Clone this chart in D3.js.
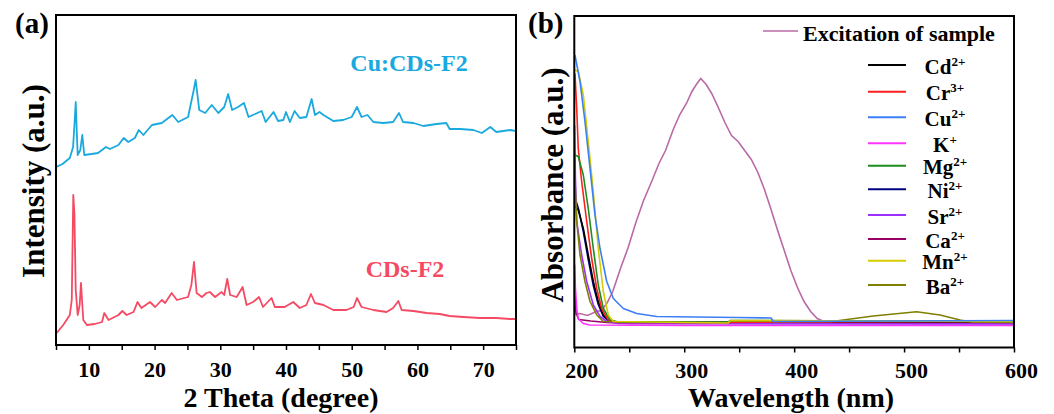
<!DOCTYPE html>
<html><head><meta charset="utf-8">
<script src="https://cdn.jsdelivr.net/npm/d3@7"></script>
<style>
body{margin:0;background:#fff}
svg{display:block}
text{font-family:"Liberation Serif","Times New Roman",serif;font-weight:bold;fill:#000}
</style>
</head><body>
<svg id="c" width="1054" height="414"></svg>
<script>
// ---------- Panel (a): XRD ----------
const xrdTickLabels = [10,20,30,40,50,60,70];
const xrdSeriesNames = ["Cu:CDs-F2","CDs-F2"];
// [2theta (deg), intensity (a.u.)]
const cuCDsF2 = [[5.0,178],[6.0,181],[7.1,187],[7.6,198],[7.85,225],[8.0,243],[8.15,215],[8.3,190],[8.7,195],[9.0,210],[9.3,190],[10.4,191],[11.4,192],[12.6,198],[13.2,196],[14.5,200],[15.3,207],[16.0,203],[17.0,207],[17.6,215],[18.3,210],[19.6,220],[21.1,222],[22.7,230],[23.6,223],[25.1,228],[25.9,253],[26.25,265],[26.8,235],[27.7,232],[28.7,240],[29.7,232],[30.6,238],[31.2,251],[31.8,235],[32.7,238],[33.6,242],[34.3,228],[35.3,231],[36.3,234],[36.9,223],[38.1,233],[38.8,224],[39.6,225],[40.0,233],[40.6,223],[41.3,234],[42.1,227],[43.1,228],[43.9,246],[44.4,230],[45.1,233],[45.7,230],[47.2,224],[48.7,225],[50.0,228],[50.8,238],[51.5,228],[52.4,230],[53.3,223],[54.8,222],[56.3,223],[57.2,232],[57.8,223],[59.4,222],[60.9,219],[62.9,221],[64.4,222],[64.9,216],[66.5,216],[68.5,215],[69.8,212],[71.1,218],[72.0,213],[74.1,215],[75,214]];
const cdsF2 = [[5.1,12],[6.1,20],[7.1,30],[7.4,45],[7.63,150],[7.8,132],[8.0,55],[8.3,30],[8.6,40],[8.8,62],[9.15,25],[9.7,20],[10.9,21],[12.0,23],[12.35,32],[13.0,25],[14.5,30],[15.1,34],[15.75,30],[16.8,33],[17.4,43],[18.0,37],[19.3,43],[20.1,38],[21.1,45],[21.6,42],[22.6,52],[23.4,45],[24.5,47],[25.1,48],[25.6,60],[26.0,83],[26.4,52],[27.2,48],[27.9,52],[28.4,53],[29.2,48],[30.2,53],[30.6,50],[31.06,66],[31.5,50],[32.5,48],[33.4,58],[34.0,40],[35.0,43],[35.9,48],[36.5,38],[37.8,47],[38.3,38],[39.8,38],[41.1,43],[42.1,37],[43.1,40],[43.8,51],[44.4,42],[45.7,40],[47.2,35],[49.2,35],[50.3,38],[50.8,47],[51.5,38],[53.3,35],[55.3,33],[56.3,37],[57.1,44],[57.6,35],[59.4,34],[61.4,32],[63.4,31],[64.9,29],[67.0,28],[69.5,27],[72.0,27],[74.1,26],[75,26]];

// ---------- Panel (b): UV-vis ----------
const wlTickLabels = [200,300,400,500,600];
const excitationName = "Excitation of sample";
// [wavelength (nm), absorbance (a.u.)]
const excitation = [[200.5,33],[205,34],[212,32],[220,36],[225,37],[230,45],[235,56],[242,79],[249,100],[256,125],[263,147],[270,165],[277,184],[283,197],[290,218],[296,233],[302,244],[307,256],[311,263],[315,269],[320,263],[325,254],[331,240],[337,225],[343,212],[349,206],[355,197],[361,188],[367,175],[373,158],[379,138],[385,117],[391,97],[397,77],[403,60],[409,46],[415,36],[421,29],[427,26],[432,25]];
const ionNames = ["Cd","Cr","Cu","K","Mg","Ni","Sr","Ca","Mn","Ba"];
const ionCharges = ["2+","3+","2+","+","2+","2+","2+","2+","2+","2+"];
const cdAbs = [[200.6,141],[203.6,137.5],[208.2,119],[212.7,92.5],[217.3,66],[221.8,46],[226.4,32.5],[232.5,26],[260,25],[400,25],[600,25]];
const crAbs = [[200.6,274],[202.2,239],[203.6,199],[206.7,166],[211.3,126],[215.8,89],[220.4,59],[224.9,39],[230.9,27.5],[240,25],[340,25],[380,25.5],[600,26]];
const cuAbs = [[200.6,292.5],[205.2,266],[209.7,226],[214.3,179],[218.8,132.5],[223.4,99],[229.5,66],[235.5,49],[244.6,39],[256.8,34],[275,31],[348,30],[379,29.5],[381,26],[600,27]];
const kAbs = [[200.3,83],[201,60],[202.2,39],[203.6,29],[208.2,24],[214,22.5],[300,22],[600,22]];
const mgAbs = [[200.6,192.5],[203.6,191],[208.2,172.5],[212.7,139],[217.3,99],[221.8,62.5],[226.4,39],[232.5,27.5],[240,25.5],[340,25.5],[342,27],[600,26]];
const niAbs = [[200.6,150],[204,138],[208.2,116],[212.7,88],[217.3,62],[221.8,43],[226.4,31],[232.5,25.5],[600,25]];
const srAbs = [[200.3,222],[201,170],[202.2,126],[206.7,92.5],[211.3,66],[217.3,42.5],[223.4,31],[229.5,26],[240,24],[600,23.5]];
const caAbs = [[200.3,60],[201.5,35],[204,28],[215,26.5],[230,25],[250,24],[600,24]];
const mnAbs = [[200.6,277.5],[203.6,276],[208.2,252.5],[212.7,206],[217.3,156],[221.8,99],[226.4,56],[230.9,32.5],[235.5,26],[340,24.5],[342,27],[600,26]];
const baAbs = [[200.6,169],[202.2,126],[205.2,92.5],[209.7,66],[214.3,46],[220.4,32.5],[226.4,26],[300,25],[432.6,25.8],[472,31.5],[511.4,35.8],[532.7,32.5],[550.9,27.5],[563,25.2],[600,25]];

// ---------- styles ----------
const xrdColors = ["#19a9de","#f44a63"];
const excitationColor = "#b96aa5";
const ionColors = ["#000000","#ff1f1f","#3b7ff5","#ff33ff","#1e8c1e","#000080","#9b30ff","#990066","#d6cc00","#808000"];

const svg = d3.select("#c");
const FONT = '"Liberation Serif","Times New Roman",serif';

function styleTickText(sel, y, dx){
  sel.selectAll(".tick text").attr("y",y).attr("dy",0).attr("dx",dx)
    .style("font-size","22px").style("font-family",FONT).style("font-weight","bold").style("fill","#000");
}

// ===== Panel (a) =====
const xa = d3.scaleLinear().domain([5,75]).range([56,516]);
const ya = d3.scaleLinear().domain([0,330]).range([345,15]);
const la = d3.line().x(d=>xa(d[0])).y(d=>ya(d[1]));

const ga = svg.append("g");
[cuCDsF2, cdsF2].forEach((s,i)=>{
  ga.append("path").attr("d", la(s)).attr("fill","none")
    .attr("stroke", xrdColors[i]).attr("stroke-width",1.8).attr("stroke-linejoin","round");
});
const axA = ga.append("g").attr("transform","translate(0,345)")
  .call(d3.axisBottom(xa).tickValues(d3.range(5,76,5)).tickSize(5)
    .tickFormat(d => xrdTickLabels.includes(d) ? d : ""));
axA.select(".domain").remove();
axA.selectAll(".tick line").attr("stroke","#000").attr("stroke-width",1.5);
styleTickText(axA, 32, 0);
ga.append("rect").attr("x",56).attr("y",15).attr("width",460).attr("height",330)
  .attr("fill","none").attr("stroke","#000").attr("stroke-width",2);

ga.append("text").attr("x",409).attr("y",71).attr("text-anchor","middle")
  .style("font-size","24px").style("fill",xrdColors[0]).text(xrdSeriesNames[0]);
ga.append("text").attr("x",405).attr("y",277).attr("text-anchor","middle")
  .style("font-size","24px").style("fill",xrdColors[1]).text(xrdSeriesNames[1]);

ga.append("text").attr("x",281).attr("y",407).attr("text-anchor","middle")
  .style("font-size","28px").text("2 Theta (degree)");
ga.append("text").attr("transform","translate(44,181) rotate(-90)").attr("text-anchor","middle")
  .style("font-size","31px").text("Intensity (a.u.)");
ga.append("text").attr("x",15).attr("y",33).style("font-size","29px").text("(a)");

// ===== Panel (b) =====
const xb = d3.scaleLinear().domain([200,600]).range([574.3,1014]);
const yb = d3.scaleLinear().domain([0,331.5]).range([347.5,16]);
const lb = d3.line().x(d=>xb(d[0])).y(d=>yb(d[1]));

const gb = svg.append("g");
gb.append("path").attr("d", lb(excitation)).attr("fill","none")
  .attr("stroke", excitationColor).attr("stroke-width",1.6);
const ionSeries = [cdAbs,crAbs,cuAbs,kAbs,mgAbs,niAbs,srAbs,caAbs,mnAbs,baAbs];
const drawOrder = [5,0,7,3,6,9,1,4,8,2];
drawOrder.forEach(i=>{
  gb.append("path").attr("d", lb(ionSeries[i])).attr("fill","none")
    .attr("stroke", ionColors[i]).attr("stroke-width",1.6).attr("stroke-linejoin","round");
});
const axB = gb.append("g").attr("transform","translate(0,347.5)")
  .call(d3.axisBottom(xb).tickValues(d3.range(200,601,50)).tickSize(5)
    .tickFormat(d => wlTickLabels.includes(d) ? d : ""));
axB.select(".domain").remove();
axB.selectAll(".tick line").attr("stroke","#000").attr("stroke-width",1.5);
styleTickText(axB, 30.5, 7);
gb.append("rect").attr("x",574.3).attr("y",16).attr("width",439.7).attr("height",331.5)
  .attr("fill","none").attr("stroke","#000").attr("stroke-width",2);

gb.append("text").attr("x",791).attr("y",407).attr("text-anchor","middle")
  .style("font-size","28px").text("Wavelength (nm)");
gb.append("text").attr("transform","translate(563,185) rotate(-90)").attr("text-anchor","middle")
  .style("font-size","31px").text("Absorbance (a.u.)");
gb.append("text").attr("x",528).attr("y",33).style("font-size","29px").text("(b)");

// legend
gb.append("line").attr("x1",763).attr("x2",798).attr("y1",31).attr("y2",31)
  .attr("stroke",excitationColor).attr("stroke-width",1.5);
gb.append("text").attr("x",803).attr("y",40.5).style("font-size","22px").text(excitationName);

const legendY = [65,91.7,117.3,143.3,165.7,189.3,215,239,260.7,285];
ionNames.forEach((n,i)=>{
  gb.append("line").attr("x1",868).attr("x2",906).attr("y1",legendY[i]).attr("y2",legendY[i])
    .attr("stroke",ionColors[i]).attr("stroke-width",2);
  const t = gb.append("text").attr("x",945).attr("y",legendY[i]+8.5)
    .attr("text-anchor","middle").style("font-size","21px");
  t.append("tspan").text(n);
  t.append("tspan").style("font-size","13px").attr("dy",-8).text(ionCharges[i]);
});
</script>
</body></html>
